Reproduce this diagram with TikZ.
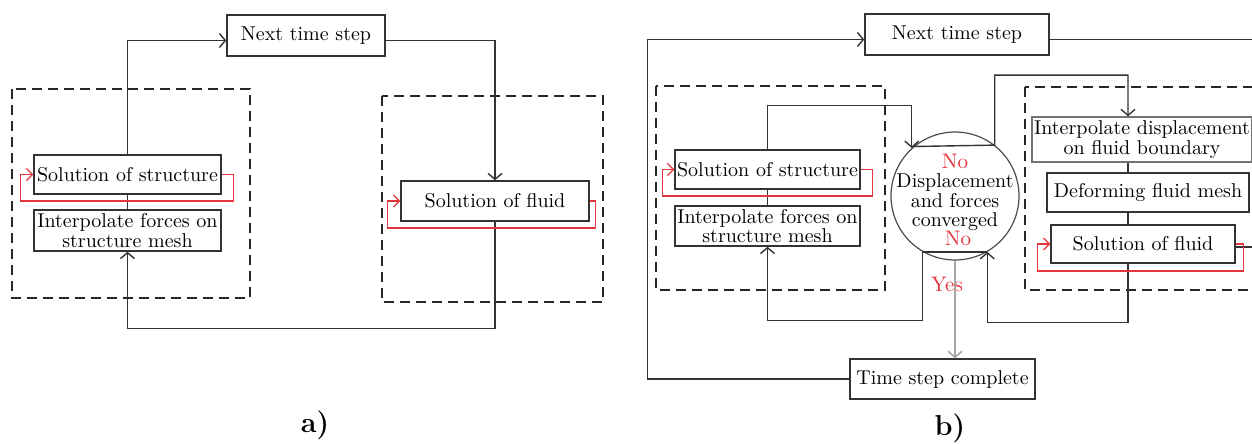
\documentclass[tikz,border=0pt]{standalone}
\usetikzlibrary{arrows.meta,positioning,calc}

\definecolor{loopred}{RGB}{228,52,60}
\tikzset{
  block/.style={shape=rectangle,draw=black!80,line width=0.7pt,inner sep=1pt,align=center,
    font=\fontsize{10}{9.8}\selectfont},
  group/.style={draw=black!85,line width=0.6pt,dash pattern=on 5pt off 3pt},
  link/.style={draw=black!80,line width=0.7pt},
  flow/.style={link,-{Straight Barb[length=3pt,width=7pt]}},
  inner loop/.style={draw=loopred,line width=0.6pt,-{Straight Barb[length=3pt,width=6pt]}},
  answer/.style={text=loopred,inner sep=0pt,font=\fontsize{10.5}{10}\selectfont},
}

\begin{document}
\begin{tikzpicture}[x=0.5pt,y=-0.5pt]
        \useasboundingbox (0,0) rectangle (1252,444);

        % a) staggered scheme
        \node[block,minimum width=79pt,minimum height=20.5pt] (next-a) at (306,35.5) {Next time step};
        \node[block,minimum width=93.5pt,minimum height=19.5pt] (sol-s-a) at (127.5,174.5) {Solution of structure};
        \node[block,minimum width=93.5pt,minimum height=20.5pt] (int-f-a) at (127.5,230.5) {Interpolate forces on\\structure mesh};
        \node[block,minimum width=94pt,minimum height=20pt] (sol-f-a) at (495,201) {Solution of fluid};
        \node[font=\Large\bfseries] (lab-a) at (315,425) {a)};

        \draw[group] (12,89) rectangle (250,298);
        \draw[group] (382,96) rectangle (603,302);

        \draw[link] (sol-s-a) -- (int-f-a);
        \draw[flow] (sol-s-a.north) |- ([yshift=-2.5pt]next-a.west);
        \draw[flow] ([yshift=-2.5pt]next-a.east) -| (sol-f-a.north);
        \draw[flow] (sol-f-a.south) -- ++(0,107) -| (int-f-a.south);
        \draw[inner loop] (sol-s-a.east) -- ++(12,0) -- ++(0,26.5) -| ([xshift=-6.5pt]sol-s-a.west) -- (sol-s-a.west);
        \draw[inner loop] (sol-f-a.east) -- ++(6,0) -- ++(0,27) -| ([xshift=-6.5pt]sol-f-a.west) -- (sol-f-a.west);

        % b) implicit scheme
        \coordinate (rim) at (1262,0);
        \coordinate (axis) at (1128,0);
        \node[block,minimum width=92pt,minimum height=20.5pt] (next-b) at (957,34.5) {Next time step};
        \node[block,minimum width=92.5pt,minimum height=19.5pt] (sol-s-b) at (767.5,169.5) {Solution of structure};
        \node[block,minimum width=92.5pt,minimum height=20pt] (int-f-b) at (767.5,226) {Interpolate forces on\\structure mesh};
        \node[shape=circle,draw=black!70,line width=0.6pt,minimum size=64pt,inner sep=0pt] (conv) at (955,196) {};
        \node[align=center,inner sep=0pt,font=\fontsize{10}{9.8}\selectfont] (conv-txt) at (955,202.5) {Displacement\\and forces\\converged};
        \node[answer] (no-top) at (955,161) {No};
        \node[answer] (no-bot) at (958,238) {No};
        \node[answer] (yes) at (947,284) {Yes};
        \node[block,draw=black!55,minimum width=110pt,minimum height=22.5pt] (disp) at (1142,139.5) {Interpolate displacement\\on fluid boundary};
        \node[block,minimum width=101pt,minimum height=19.5pt] (deform) at (1148,192.5) {Deforming fluid mesh};
        \node[block,minimum width=92pt,minimum height=19pt] (sol-f-b) at (1143,244) {Solution of fluid};
        \node[block,minimum width=92.5pt,minimum height=20pt] (done) at (942.5,379) {Time step complete};
        \node[font=\Large\bfseries] (lab-b) at (950,428) {b)};

        \draw[group] (656,86) rectangle (885,290);
        \draw[group] (1025,87) rectangle (1272,290);

        \draw[link] (sol-s-b) -- (int-f-b);
        \draw[link] (disp.south -| axis) -- (deform.north -| axis);
        \draw[link] (deform.south -| axis) -- (sol-f-b.north -| axis);
        \draw[flow] (done.west) -- ++(-202,0) |- ([yshift=-2.5pt]next-b.west);
        \draw[link] ([yshift=-2.5pt]next-b.east) -- ([yshift=-2.5pt]next-b.east -| rim);
        \draw[flow] (sol-s-b.north) -- ++(0,-44) -| (conv.132);
        \draw[flow] (conv.130) -- (conv.52) -- ++(0,-70) -| (disp.north -| axis);
        \draw[flow] (sol-f-b.south -| axis) -- ++(0,59) -| (conv.-60);
        \draw[flow] (conv.-60) -- (conv.-120) -- ++(0,68.5) -| (int-f-b.south);
        \draw[flow,draw=black!35,line width=0.8pt] (conv.south) -- (conv.south |- done.north);
        \draw[link] ([yshift=-1.5pt]sol-f-b.east) -- ([yshift=-1.5pt]sol-f-b.east -| rim);
        \draw[inner loop] (sol-s-b.east) -- ++(12,0) -- ++(0,26.5) -| ([xshift=-6pt]sol-s-b.west) -- (sol-s-b.west);
        \draw[inner loop] (sol-f-b.east) -- ++(8,0) -- ++(0,27) -| ([xshift=-6.5pt]sol-f-b.west) -- (sol-f-b.west);
\end{tikzpicture}
\end{document}
